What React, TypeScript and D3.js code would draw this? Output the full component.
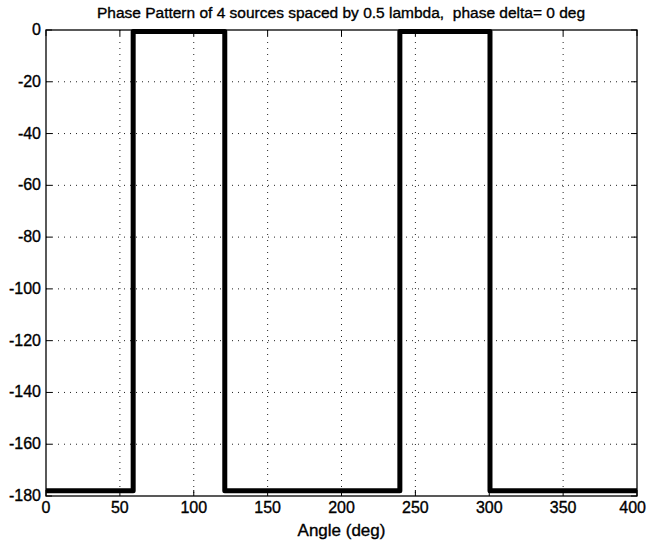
import { useEffect, useRef } from 'react'
import * as d3 from 'd3'

// phase pattern data (deg)
const angles = [0, 59, 59, 121, 121, 239.5, 239.5, 300.5, 300.5, 400]
const phases = [-178, -178, -0.6, -0.6, -178, -178, -0.6, -0.6, -178, -178]
const xTicks = [0, 50, 100, 150, 200, 250, 300, 350, 400]
const yTicks = [0, -20, -40, -60, -80, -100, -120, -140, -160, -180]

const title = 'Phase Pattern of 4 sources spaced by 0.5 lambda,  phase delta= 0 deg'
const xLabel = 'Angle (deg)'

export default function App() {
  const ref = useRef<SVGSVGElement | null>(null)

  useEffect(() => {
    if (!ref.current) return
    const width = 647
    const height = 546
    const margin = { top: 30, right: 10, bottom: 50, left: 46 }

    const svg = d3.select(ref.current)
    svg.selectAll('*').remove()

    const x = d3.scaleLinear().domain([0, 400]).range([margin.left, width - margin.right])
    const y = d3.scaleLinear().domain([-180, 0]).range([height - margin.bottom, margin.top])
    const font = '"Liberation Sans", Arial, sans-serif'

    // dotted grid
    const grid = svg.append('g').attr('stroke', '#222').attr('stroke-width', 1).attr('stroke-dasharray', '1,5')
    grid
      .selectAll('line.gx')
      .data(xTicks.slice(1, -1))
      .join('line')
      .attr('x1', (d) => x(d))
      .attr('x2', (d) => x(d))
      .attr('y1', y(0))
      .attr('y2', y(-180))
    grid
      .selectAll('line.gy')
      .data(yTicks.slice(1, -1))
      .join('line')
      .attr('x1', x(0))
      .attr('x2', x(400))
      .attr('y1', (d) => y(d))
      .attr('y2', (d) => y(d))

    // inward ticks on all four sides
    const ticks = svg.append('g').attr('stroke', '#000').attr('stroke-width', 1)
    xTicks.forEach((t) => {
      ticks.append('line').attr('x1', x(t)).attr('x2', x(t)).attr('y1', y(-180)).attr('y2', y(-180) - 6)
      ticks.append('line').attr('x1', x(t)).attr('x2', x(t)).attr('y1', y(0)).attr('y2', y(0) + 6)
    })
    yTicks.forEach((t) => {
      ticks.append('line').attr('x1', x(0)).attr('x2', x(0) + 6).attr('y1', y(t)).attr('y2', y(t))
      ticks.append('line').attr('x1', x(400)).attr('x2', x(400) - 6).attr('y1', y(t)).attr('y2', y(t))
    })

    // box
    svg
      .append('rect')
      .attr('x', x(0))
      .attr('y', y(0))
      .attr('width', x(400) - x(0))
      .attr('height', y(-180) - y(0))
      .attr('fill', 'none')
      .attr('stroke', '#000')
      .attr('stroke-width', 1.3)

    const styleText = (sel: any, size: number) =>
      sel
        .style('font-family', font)
        .style('font-size', `${size}px`)
        .style('fill', '#000')
        .style('stroke', '#000')
        .style('stroke-width', '0.35px')

    // tick labels
    const xl = svg
      .append('g')
      .selectAll('text')
      .data(xTicks)
      .join('text')
      .attr('x', (d, i) => (i === xTicks.length - 1 ? width - 1 : x(d)))
      .attr('y', y(-180) + 17)
      .attr('text-anchor', (d, i) => (i === xTicks.length - 1 ? 'end' : 'middle'))
      .text((d) => d)
    styleText(xl, 16)

    const yl = svg
      .append('g')
      .selectAll('text')
      .data(yTicks)
      .join('text')
      .attr('x', x(0) - 5)
      .attr('y', (d) => y(d) + 5)
      .attr('text-anchor', 'end')
      .text((d) => d)
    styleText(yl, 16)

    // phase curve
    const line = d3
      .line<number>()
      .x((_, i) => x(angles[i]))
      .y((d) => y(d))
    svg
      .append('path')
      .datum(phases)
      .attr('d', line)
      .attr('fill', 'none')
      .attr('stroke', '#000')
      .attr('stroke-width', 5)
      .attr('stroke-linejoin', 'round')

    const t = svg
      .append('text')
      .attr('x', 341)
      .attr('y', 18)
      .attr('text-anchor', 'middle')
      .style('white-space', 'pre')
      .text(title)
    styleText(t, 15.5)

    const xt = svg
      .append('text')
      .attr('x', x(200))
      .attr('y', 536)
      .attr('text-anchor', 'middle')
      .text(xLabel)
    styleText(xt, 17)
  }, [])

  return (
    <svg
      ref={ref}
      width={647}
      height={546}
      style={{ position: 'absolute', left: 0, top: 0, background: '#fff' }}
    />
  )
}
